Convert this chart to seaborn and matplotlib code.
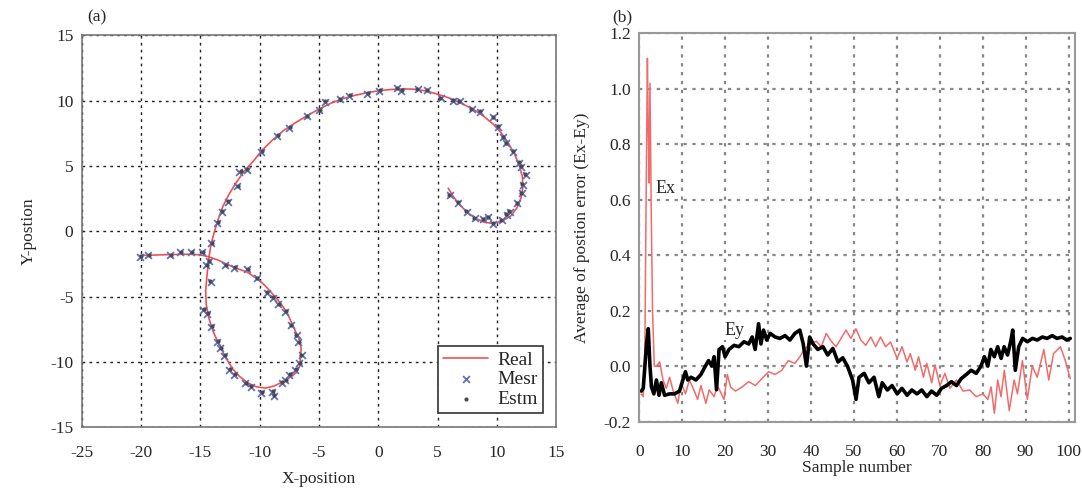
import numpy as np
import matplotlib
matplotlib.use("Agg")
import matplotlib.pyplot as plt
import pandas as pd
import seaborn as sns

# (a) trajectory: real path
real_x = [-20.1, -19.0, -17.5, -16.0, -15.0, -14.3, -13.5, -12.8, -11.9, -11.1, -10.25, -9.6, -9.1, -8.5,
          -8.0, -7.6, -7.3, -6.95, -6.6, -6.5, -6.55, -6.6, -6.9, -7.3, -8.0, -8.8, -9.5, -10.3, -11.0,
          -11.7, -12.3, -12.9, -13.4, -13.9, -14.3, -14.5, -14.55, -14.45, -14.3, -14.1, -13.8, -13.5,
          -13.1, -12.6, -12.0, -11.3, -10.5, -9.8, -8.9, -8.0, -7.0, -6.0, -5.0, -4.0, -3.0, -2.0, -1.0,
          0.0, 1.0, 2.0, 3.0, 4.0, 5.0, 6.0, 7.0, 8.0, 8.9, 9.7, 10.4, 11.0, 11.5, 11.9, 12.15, 12.2,
          12.05, 11.7, 11.2, 10.5, 9.7, 8.9, 8.1, 7.4, 6.8, 6.3, 5.9]
real_y = [-1.85, -1.82, -1.78, -1.75, -1.8, -1.95, -2.2, -2.5, -2.85, -3.1, -3.6, -4.1, -4.6, -5.2,
          -5.8, -6.4, -7.0, -7.7, -8.4, -9.0, -9.6, -10.3, -10.8, -11.1, -11.5, -11.85, -12.0, -11.9, -11.6,
          -11.1, -10.5, -9.6, -8.7, -7.7, -6.6, -5.6, -4.6, -3.5, -2.2, -1.0, 0.0, 0.9,
          1.9, 2.8, 3.7, 4.6, 5.4, 6.2, 7.0, 7.7, 8.3, 8.85, 9.35, 9.8, 10.15, 10.4, 10.6,
          10.75, 10.85, 10.9, 10.88, 10.75, 10.5, 10.2, 9.8, 9.35, 8.8, 8.2, 7.5, 6.7, 5.9, 5.0, 4.2, 3.4,
          2.6, 1.8, 1.2, 0.8, 0.6, 0.7, 1.05, 1.55, 2.1, 2.7, 3.3]

# measured positions
mesr_x = [-20.08, -19.38, -17.55, -16.71, -15.81, -14.89, -14.3, -14.52, -14.1, -14.8, -14.4, -14.12,
          -13.62, -13.33, -12.97, -12.58, -12.13, -11.23, -10.75, -9.88, -8.98, -8.79, -8.14, -7.86,
          -7.49, -7.02, -6.65, -6.45, -6.73, -6.87, -7.38, -7.86, -8.42, -8.9, -9.4, -10.24, -11.08,
          -12.2, -12.9, -14.1, -13.6, -13.2, -12.7, -11.9, -11.7, -11.1, -9.85, -8.5, -7.5, -6.03,
          -4.97, -4.5, -3.22, -2.43, -0.92, 0.1, 1.6, 1.96, 3.37, 4.13, 5.26, 6.33, 6.89, 7.87, 8.59,
          9.71, 10.13, 10.56, 10.78, 11.4, 11.9, 12.0, 12.5, 12.18, 12.1, 11.73, 11.1, 10.84, 10.41,
          9.71, 9.29, 8.87, 8.17, 7.46, 6.76, 6.05]
mesr_y = [-1.94, -1.84, -1.84, -1.59, -1.59, -1.56, -2.3, -2.6, -3.85, -6.0, -6.3, -7.3,
          -8.44, -8.96, -9.55, -10.6, -10.99, -11.63, -11.89, -12.4, -12.27, -12.6, -11.6, -11.4,
          -11.0, -10.6, -10.1, -9.5, -8.5, -7.97, -7.2, -6.17, -5.6, -5.1, -4.7, -3.6, -2.9,
          -2.8, -2.6, -0.92, 0.66, 1.5, 2.27, 3.47, 4.57, 4.7, 6.1, 7.3, 7.9, 8.8,
          9.25, 9.9, 10.1, 10.36, 10.51, 10.74, 10.95, 10.74, 10.87, 10.82, 10.18, 10.0, 9.98, 9.34, 9.16,
          8.72, 8.0, 7.2, 6.73, 6.1, 5.25, 4.95, 4.3, 3.55, 2.91, 2.15, 1.48, 1.28, 0.84,
          0.59, 1.09, 0.92, 1.01, 1.48, 2.19, 2.75]

# estimated positions
estm_x = [-20.0, -19.3, -17.5, -16.6, -15.7, -14.8, -14.25, -14.45, -14.15, -14.7, -14.35, -14.05,
          -13.55, -13.25, -12.9, -12.5, -12.05, -11.15, -10.7, -9.8, -8.9, -8.75, -8.1, -7.8,
          -7.45, -6.95, -6.6, -6.5, -6.7, -6.9, -7.35, -7.8, -8.4, -8.85, -9.35, -10.2, -11.0,
          -12.1, -12.85, -14.05, -13.55, -13.15, -12.65, -11.85, -11.6, -11.05, -9.8, -8.45, -7.45, -6.0,
          -4.9, -4.45, -3.2, -2.4, -0.9, 0.15, 1.55, 2.0, 3.3, 4.1, 5.2, 6.3, 6.85, 7.8, 8.55,
          9.65, 10.1, 10.5, 10.75, 11.35, 11.85, 12.0, 12.4, 12.15, 12.05, 11.7, 11.05, 10.8, 10.35,
          9.7, 9.25, 8.8, 8.1, 7.4, 6.7, 6.0]
estm_y = [-1.9, -1.82, -1.8, -1.62, -1.62, -1.6, -2.25, -2.55, -3.8, -5.95, -6.25, -7.25,
          -8.4, -8.9, -9.5, -10.55, -10.95, -11.58, -11.85, -12.3, -12.2, -12.5, -11.55, -11.35,
          -10.95, -10.55, -10.05, -9.45, -8.45, -7.9, -7.15, -6.1, -5.55, -5.05, -4.65, -3.55, -2.85,
          -2.75, -2.55, -0.9, 0.7, 1.55, 2.3, 3.5, 4.6, 4.75, 6.15, 7.35, 7.95, 8.85,
          9.3, 9.95, 10.15, 10.4, 10.55, 10.78, 10.98, 10.78, 10.9, 10.85, 10.22, 10.05, 10.0, 9.38, 9.2,
          8.75, 8.05, 7.25, 6.78, 6.15, 5.3, 5.0, 4.35, 3.6, 2.95, 2.2, 1.52, 1.32, 0.88,
          0.62, 1.12, 0.95, 1.05, 1.52, 2.22, 2.8]

# (b) position error vs sample number
ex_n = [0.5, 0.93, 1.3, 1.6, 1.9, 2.1, 2.3, 2.5, 2.8, 3.1, 3.5, 4.0, 4.77, 5.54, 6.3, 7.07, 7.84, 8.99,
        9.76, 10.76, 11.68, 12.83, 13.6, 14.37, 15.52, 16.29, 17.44, 18.21, 19.75, 20.51, 21.28, 22.43,
        23.97, 25.5, 27.04, 28.58, 30.12, 31.65, 33.19, 34.72, 36.26, 37.41, 38.56, 40.1, 41.25, 42.4,
        43.56, 44.71, 45.86, 47.0, 48.16, 49.3, 50.47, 51.62, 52.77, 53.93, 55.08, 56.2, 57.38, 58.53,
        60.07, 61.22, 62.37, 63.14, 64.29, 65.06, 66.2, 66.98, 68.13, 68.9, 70.05, 71.2, 72.36, 73.89,
        75.43, 76.97, 78.5, 80.04, 81.2, 81.96, 82.73, 83.5, 84.27, 85.04, 86.19, 87.34, 88.1, 89.26,
        90.4, 91.56, 92.71, 94.24, 95.4, 96.5, 98.1, 99.25, 100.4]
ex_val = [-0.1, -0.11, 0.05, 0.6, 1.11, 0.85, 0.66, 1.02, 0.55, 0.2, 0.0, 0.0, 0.015, -0.05, -0.08, -0.04,
          -0.086, -0.134, -0.06, -0.1, -0.05, -0.09, -0.12, -0.07, -0.134, -0.086, -0.11, -0.07, -0.12,
          -0.03, -0.075, -0.09, -0.075, -0.056, -0.07, -0.045, -0.02, -0.03, -0.015, 0.02, 0.01, 0.034,
          0.064, 0.08, 0.09, 0.07, 0.118, 0.09, 0.07, 0.1, 0.13, 0.1, 0.135, 0.094, 0.075, 0.105, 0.07,
          0.105, 0.07, 0.087, 0.028, 0.07, 0.015, 0.045, -0.015, 0.034, -0.04, 0.01, -0.06, 0.004, -0.07,
          -0.026, -0.08, -0.05, -0.09, -0.086, -0.11, -0.1, -0.12, -0.075, -0.17, -0.05, -0.11, -0.015,
          -0.16, -0.05, -0.1, 0.02, -0.12, 0.0, -0.04, 0.06, -0.05, 0.045, 0.07, 0.02, -0.045]

ey_n = [0.5, 0.93, 1.7, 2.1, 2.5, 2.85, 3.4, 4.0, 4.6, 5.15, 5.9, 7.07, 8.2, 9.38, 10.15, 10.76, 11.3,
        12.07, 13.2, 14.37, 15.4, 16.14, 16.9, 17.44, 18.0, 18.6, 19.4, 20.0, 20.9, 22.1, 23.2, 24.4,
        25.5, 26.3, 27.0, 27.8, 28.35, 28.95, 29.7, 30.5, 31.65, 32.8, 33.96, 35.1, 36.26, 37.4, 38.2,
        38.95, 39.7, 40.5, 41.6, 42.8, 43.9, 45.1, 46.3, 47.4, 48.5, 49.7, 50.5, 51.2, 52.4, 53.5, 54.7,
        55.8, 56.6, 57.8, 58.9, 60.1, 61.2, 62.4, 63.5, 64.7, 65.8, 67.0, 68.1, 69.3, 70.4, 71.6, 72.7,
        73.9, 75.0, 76.2, 77.3, 78.5, 79.6, 80.4, 81.2, 81.9, 82.7, 83.5, 84.3, 85.0, 85.8, 86.6, 87.0,
        87.6, 88.4, 89.3, 90.4, 91.6, 92.7, 93.9, 95.0, 96.2, 97.3, 98.5, 99.6, 100.4]
ey_val = [-0.09, -0.08, 0.08, 0.135, 0.0, -0.075, -0.1, -0.05, -0.105, -0.06, -0.105, -0.1, -0.1, -0.09,
          -0.05, -0.02, -0.05, -0.04, -0.05, -0.03, 0.0, 0.02, 0.0, 0.034, -0.085, 0.06, 0.07, 0.034,
          0.06, 0.075, 0.07, 0.088, 0.08, 0.105, 0.06, 0.153, 0.08, 0.13, 0.094, 0.118, 0.105, 0.1, 0.11,
          0.094, 0.118, 0.13, 0.08, 0.0, 0.105, 0.08, 0.06, 0.07, 0.04, 0.064, 0.015, 0.03, 0.0, -0.05,
          -0.12, -0.04, -0.026, -0.06, -0.04, -0.11, -0.06, -0.086, -0.07, -0.1, -0.08, -0.105, -0.086,
          -0.1, -0.086, -0.11, -0.09, -0.105, -0.08, -0.07, -0.056, -0.07, -0.045, -0.03, -0.015, -0.026,
          0.0, 0.034, 0.0, 0.06, 0.034, 0.07, 0.028, 0.07, 0.04, 0.094, 0.13, -0.015, 0.07, 0.1, 0.088,
          0.1, 0.094, 0.105, 0.1, 0.11, 0.1, 0.105, 0.094, 0.1]

sns.set_theme(style="white")
plt.rcParams['font.family'] = ['Liberation Serif', 'DejaVu Serif']
plt.rcParams['axes.unicode_minus'] = False

fig = plt.figure(figsize=(10.82, 4.93), dpi=100)
ax1 = fig.add_axes([0.0755, 0.1333, 0.4385, 0.795])
ax2 = fig.add_axes([0.5908, 0.1448, 0.4027, 0.7877])

real = pd.DataFrame({'x': real_x, 'y': real_y})
mesr = pd.DataFrame({'x': mesr_x, 'y': mesr_y})
estm = pd.DataFrame({'x': estm_x, 'y': estm_y})

sns.lineplot(data=real, x='x', y='y', sort=False, estimator=None, ax=ax1,
             color='#f05050', lw=1.2, label='Real')
sns.scatterplot(data=mesr, x='x', y='y', ax=ax1, marker='x', color='#5f70c0',
                s=24, linewidth=1.3, label='Mesr', zorder=3)
sns.scatterplot(data=estm, x='x', y='y', ax=ax1, marker='o', color='#4a4a4a',
                s=9, linewidth=0, label='Estm', zorder=4)

ax1.set_xlim(-25, 15)
ax1.set_ylim(-15, 15)
ax1.set_xticks(range(-25, 16, 5))
ax1.set_yticks(range(-15, 16, 5))
ax1.grid(True, color='#222222', ls=(0, (2, 3)), lw=1.0)
ax1.set_axisbelow(True)
ax1.set_xlabel('X-position', fontsize=12.5, labelpad=7)
ax1.set_ylabel('Y-postion', fontsize=12.5, labelpad=10)
for s in ax1.spines.values():
    s.set_color('#777777')
    s.set_linewidth(1.2)
leg = ax1.legend(loc='lower right', fontsize=14, frameon=True, fancybox=False, framealpha=1,
                 edgecolor='#333333', borderpad=0.25, handlelength=2.3, labelspacing=0.1,
                 handletextpad=0.5, bbox_to_anchor=(0.993, 0.012))
leg.get_frame().set_linewidth(1.2)

ex = pd.DataFrame({'n': ex_n, 'v': ex_val})
ey = pd.DataFrame({'n': ey_n, 'v': ey_val})
sns.lineplot(data=ex, x='n', y='v', ax=ax2, color='#f26b6b', lw=1.1, estimator=None)
sns.lineplot(data=ey, x='n', y='v', ax=ax2, color='black', lw=2.6, estimator=None)

ax2.set_xlim(0, 101.5)
ax2.set_ylim(-0.2, 1.2)
ax2.set_xticks(range(0, 101, 10))
ax2.set_yticks(np.arange(-0.2, 1.21, 0.2))
ax2.set_yticklabels(['-0.2', '0.0', '0.2', '0.4', '0.6', '0.8', '1.0', '1.2'])
ax2.grid(True, color='#888888', ls=(0, (1.5, 2.5)), lw=1.6)
ax2.set_axisbelow(True)
ax2.set_xlabel('Sample number', fontsize=12.5, labelpad=0)
ax2.set_ylabel('Average of postion error (Ex-Ey)', fontsize=12.5, labelpad=10)
for s in ax2.spines.values():
    s.set_color('#999999')
    s.set_linewidth(1.5)

ax2.text(3.8, 0.64, 'Ex', fontsize=13, va='center', ha='left',
         bbox=dict(facecolor='white', edgecolor='none', pad=1))
ax2.text(19.8, 0.13, 'Ey', fontsize=13, va='center', ha='left',
         bbox=dict(facecolor='white', edgecolor='none', pad=1))

for ax in (ax1, ax2):
    ax.tick_params(labelsize=12.5, length=0, pad=6)
ax1.tick_params(axis='x', pad=13)
ax2.tick_params(axis='x', pad=16)

fig.text(0.081, 0.965, '(a)', fontsize=12.5, ha='left', va='center')
fig.text(0.566, 0.965, '(b)', fontsize=12.5, ha='left', va='center')

fig.savefig('out.png', dpi=100)
